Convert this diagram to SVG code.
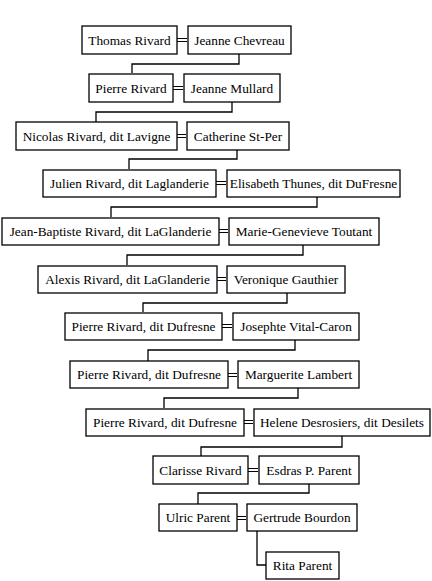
<svg xmlns="http://www.w3.org/2000/svg" width="432" height="581" viewBox="0 0 432 581">
<style>
.b rect{fill:#fff;stroke:#000;stroke-width:1.3}
.b text{font-family:"Liberation Serif","Times New Roman",serif;font-size:13.3px;fill:#000;text-anchor:middle}
#connectors path{fill:none;stroke:#000;stroke-width:1.3}
#connectors .m{stroke-width:1}
</style>
<rect width="432" height="581" fill="#fff"/>
<g id="connectors">
<path class="m" d="M177 38.5H187M177 41.5H187"/>
<path d="M239 54V64H132V73"/>
<path class="m" d="M173 86.5H183M173 89.5H183"/>
<path d="M232 102V112H96V122"/>
<path class="m" d="M177 134.5H186M177 137.5H186"/>
<path d="M237 150V159H129V169"/>
<path class="m" d="M216 181.5H226M216 184.5H226"/>
<path d="M317 197V207H111V217"/>
<path class="m" d="M219 229.5H228M219 232.5H228"/>
<path d="M303 245V255H127V265"/>
<path class="m" d="M217 277.5H226M217 280.5H226"/>
<path d="M287 293V303H143V312"/>
<path class="m" d="M222 324.5H232M222 327.5H232"/>
<path d="M295 340V350H148V361"/>
<path class="m" d="M228 373.5H237M228 376.5H237"/>
<path d="M298 388V398H164V408"/>
<path class="m" d="M244 420.5H253M244 423.5H253"/>
<path d="M342 436V447H201V456"/>
<path class="m" d="M248 468.5H258M248 471.5H258"/>
<path d="M309 484V493H198V504"/>
<path class="m" d="M237 516.5H246M237 519.5H246"/>
<path d="M257 531V565H266"/>
</g>
<g id="n1" class="b"><rect x="82" y="26" width="95" height="28"/><text x="129.5" y="44.5">Thomas Rivard</text></g>
<g id="n2" class="b"><rect x="188" y="26" width="103" height="28"/><text x="239.5" y="44.5">Jeanne Chevreau</text></g>
<g id="n3" class="b"><rect x="89" y="74" width="84" height="28"/><text x="131" y="92.5">Pierre Rivard</text></g>
<g id="n4" class="b"><rect x="184" y="74" width="96" height="28"/><text x="232" y="92.5">Jeanne Mullard</text></g>
<g id="n5" class="b"><rect x="16" y="122" width="161" height="28"/><text x="96.5" y="140.5">Nicolas Rivard, dit Lavigne</text></g>
<g id="n6" class="b"><rect x="187" y="122" width="102" height="28"/><text x="238" y="140.5">Catherine St-Per</text></g>
<g id="n7" class="b"><rect x="43" y="170" width="173" height="27"/><text x="129.5" y="188">Julien Rivard, dit Laglanderie</text></g>
<g id="n8" class="b"><rect x="227" y="170" width="173" height="27"/><text x="313.5" y="188">Elisabeth Thunes, dit DuFresne</text></g>
<g id="n9" class="b"><rect x="2" y="218" width="217" height="27"/><text x="110.5" y="236">Jean-Baptiste Rivard, dit LaGlanderie</text></g>
<g id="n10" class="b"><rect x="229" y="218" width="150" height="27"/><text x="304" y="236">Marie-Genevieve Toutant</text></g>
<g id="n11" class="b"><rect x="38" y="266" width="179" height="27"/><text x="127.5" y="284">Alexis Rivard, dit LaGlanderie</text></g>
<g id="n12" class="b"><rect x="227" y="266" width="118" height="27"/><text x="286" y="284">Veronique Gauthier</text></g>
<g id="n13" class="b"><rect x="65" y="313" width="157" height="27"/><text x="143.5" y="331">Pierre Rivard, dit Dufresne</text></g>
<g id="n14" class="b"><rect x="233" y="313" width="126" height="27"/><text x="296" y="331">Josephte Vital-Caron</text></g>
<g id="n15" class="b"><rect x="70" y="361" width="158" height="27"/><text x="149" y="379">Pierre Rivard, dit Dufresne</text></g>
<g id="n16" class="b"><rect x="238" y="361" width="121" height="27"/><text x="298.5" y="379">Marguerite Lambert</text></g>
<g id="n17" class="b"><rect x="86" y="409" width="158" height="27"/><text x="165" y="427">Pierre Rivard, dit Dufresne</text></g>
<g id="n18" class="b"><rect x="254" y="409" width="176" height="27"/><text x="342" y="427">Helene Desrosiers, dit Desilets</text></g>
<g id="n19" class="b"><rect x="153" y="456" width="95" height="28"/><text x="200.5" y="474.5">Clarisse Rivard</text></g>
<g id="n20" class="b"><rect x="259" y="456" width="100" height="28"/><text x="309" y="474.5">Esdras P. Parent</text></g>
<g id="n21" class="b"><rect x="159" y="504" width="78" height="27"/><text x="198" y="522">Ulric Parent</text></g>
<g id="n22" class="b"><rect x="247" y="504" width="110" height="27"/><text x="302" y="522">Gertrude Bourdon</text></g>
<g id="n23" class="b"><rect x="266" y="552" width="73" height="27"/><text x="302.5" y="570">Rita Parent</text></g>
</svg>
